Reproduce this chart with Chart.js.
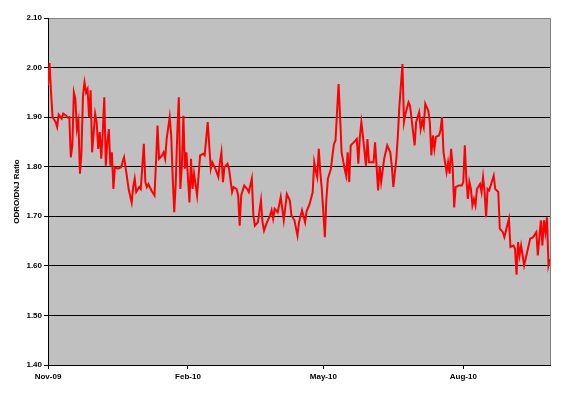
<!DOCTYPE html>
<html>
<head>
<meta charset="utf-8">
<script src="https://cdn.jsdelivr.net/npm/chart.js@4.4.0/dist/chart.umd.min.js"></script>
<style>
  body { margin: 0; background: #fff; }
  #ratioChart { display: block; }
</style>
</head>
<body>
<canvas id="ratioChart" width="577" height="394"></canvas>
<script>
// days counted from 1 Nov 2009
const days = [
  0, 1, 2, 3, 5, 6, 7, 9, 10, 12, 13, 14, 15, 16, 17, 18, 19, 20, 21, 22,
  23, 24, 25, 26, 27, 28, 29, 31, 32, 33, 34, 35, 36, 37, 38, 39, 40, 41, 42, 43,
  44, 46, 48, 50, 51, 53, 55, 56, 57, 58, 60, 61, 63, 64, 65, 66, 68, 70, 71, 72,
  73, 75, 76, 77, 78, 80, 81, 82, 83, 84, 85, 86, 87, 88, 89, 90, 91, 93, 94, 95,
  96, 98, 99, 100, 102, 103, 105, 107, 108, 110, 112, 113, 114, 115, 116, 118, 119, 121, 122, 124,
  125, 126, 127, 129, 131, 132, 134, 135, 136, 138, 140, 141, 142, 144, 146, 147, 148, 149, 151, 153,
  155, 157, 159, 160, 162, 164, 165, 167, 169, 170, 172, 174, 175, 176, 177, 178, 179, 180, 181, 182,
  183, 184, 186, 187, 188, 189, 191, 192, 193, 195, 196, 197, 198, 199, 201, 203, 204, 205, 206, 207,
  209, 210, 211, 214, 215, 217, 218, 219, 221, 223, 225, 226, 227, 229, 230, 231, 233, 234, 235, 237,
  238, 240, 241, 242, 244, 245, 246, 247, 248, 250, 251, 252, 253, 254, 255, 257, 258, 259, 260, 262,
  263, 264, 265, 266, 267, 268, 270, 272, 273, 274, 275, 276, 277, 278, 279, 280, 281, 282, 284, 285,
  286, 287, 288, 289, 290, 293, 294, 296, 297, 299, 300, 303, 304, 306, 307, 308, 309, 310, 311, 313,
  315, 317, 319, 321, 322, 324, 325, 326, 327, 328, 329, 330
];

const ratio = [
  1.964, 2.009, 1.950, 1.900, 1.890, 1.880, 1.905, 1.897, 1.907, 1.903, 1.899, 1.900, 1.819, 1.843, 1.950, 1.937, 1.876, 1.893, 1.786, 1.829,
  1.944, 1.970, 1.950, 1.957, 1.900, 1.954, 1.829, 1.907, 1.890, 1.836, 1.870, 1.816, 1.870, 1.940, 1.802, 1.849, 1.876, 1.802, 1.829, 1.755,
  1.799, 1.796, 1.799, 1.819, 1.799, 1.755, 1.728, 1.759, 1.776, 1.749, 1.759, 1.755, 1.846, 1.769, 1.759, 1.765, 1.752, 1.742, 1.809, 1.883,
  1.816, 1.823, 1.829, 1.816, 1.856, 1.900, 1.863, 1.776, 1.708, 1.769, 1.870, 1.940, 1.755, 1.802, 1.903, 1.796, 1.829, 1.728, 1.816, 1.755,
  1.786, 1.742, 1.782, 1.823, 1.826, 1.823, 1.890, 1.796, 1.809, 1.796, 1.779, 1.809, 1.829, 1.769, 1.799, 1.806, 1.796, 1.749, 1.759, 1.755,
  1.742, 1.681, 1.742, 1.762, 1.755, 1.749, 1.776, 1.702, 1.681, 1.688, 1.732, 1.688, 1.671, 1.688, 1.702, 1.712, 1.695, 1.715, 1.708, 1.739,
  1.692, 1.745, 1.732, 1.702, 1.692, 1.661, 1.688, 1.712, 1.688, 1.710, 1.725, 1.749, 1.809, 1.792, 1.779, 1.836, 1.789, 1.755, 1.708, 1.658,
  1.735, 1.776, 1.796, 1.823, 1.846, 1.853, 1.967, 1.903, 1.829, 1.796, 1.782, 1.829, 1.769, 1.843, 1.849, 1.856, 1.806, 1.860, 1.890, 1.863,
  1.802, 1.856, 1.809, 1.809, 1.849, 1.752, 1.802, 1.769, 1.816, 1.843, 1.829, 1.802, 1.759, 1.816, 1.863, 1.923, 2.007, 1.890, 1.907, 1.930,
  1.923, 1.870, 1.843, 1.890, 1.910, 1.876, 1.893, 1.880, 1.927, 1.913, 1.890, 1.823, 1.863, 1.836, 1.860, 1.863, 1.873, 1.900, 1.829, 1.789,
  1.809, 1.786, 1.836, 1.802, 1.718, 1.759, 1.762, 1.762, 1.769, 1.843, 1.776, 1.735, 1.769, 1.755, 1.722, 1.735, 1.722, 1.755, 1.765, 1.749,
  1.779, 1.749, 1.698, 1.755, 1.752, 1.782, 1.755, 1.749, 1.675, 1.668, 1.658, 1.695, 1.638, 1.641, 1.634, 1.582, 1.648, 1.621, 1.641, 1.601,
  1.628, 1.655, 1.658, 1.668, 1.621, 1.692, 1.641, 1.692, 1.668, 1.698, 1.601, 1.614
];

// x axis tick labels and the day they sit on
const tickDays = [0, 92, 181, 273];
const tickLabels = ['Nov-09', 'Feb-10', 'May-10', 'Aug-10'];

const plotArea = {
  id: 'plotArea',
  beforeDraw(chart) {
    const { ctx, chartArea: a } = chart;
    ctx.save();
    ctx.fillStyle = '#C0C0C0';
    ctx.fillRect(a.left, a.top, a.right - a.left, a.bottom - a.top);
    ctx.strokeStyle = '#808080';
    ctx.lineWidth = 1;
    ctx.beginPath();
    ctx.moveTo(a.left, a.top + 0.5);
    ctx.lineTo(a.right + 0.5, a.top + 0.5);
    ctx.lineTo(a.right + 0.5, a.bottom);
    ctx.stroke();
    ctx.restore();
  }
};

const tickFont = { family: 'Arial, "Liberation Sans", sans-serif', size: 8, weight: 'bold' };

new Chart(document.getElementById('ratioChart'), {
  type: 'line',
  data: {
    datasets: [{
      data: days.map((d, i) => ({ x: d, y: ratio[i] })),
      borderColor: '#FF0000',
      borderWidth: 2,
      pointRadius: 0,
      tension: 0,
      fill: false
    }]
  },
  options: {
    responsive: false,
    animation: false,
    layout: { padding: { left: 0, top: 18, right: 27, bottom: 0 } },
    plugins: {
      legend: { display: false },
      tooltip: { enabled: false }
    },
    scales: {
      x: {
        type: 'linear',
        min: 0,
        max: 330,
        afterBuildTicks: (scale) => { scale.ticks = tickDays.map(v => ({ value: v })); },
        afterFit: (scale) => { scale.height = 29; },
        ticks: {
          autoSkip: false,
          maxRotation: 0,
          padding: 3,
          color: '#000',
          font: tickFont,
          callback: (value) => tickLabels[tickDays.indexOf(value)]
        },
        grid: { drawOnChartArea: false, drawTicks: true, tickLength: 4, tickColor: '#000' },
        border: { color: '#000', width: 1 }
      },
      y: {
        min: 1.4,
        max: 2.1,
        afterFit: (scale) => { scale.width = 48; },
        ticks: {
          stepSize: 0.1,
          padding: 2,
          color: '#000',
          font: tickFont,
          callback: (value) => value.toFixed(2)
        },
        grid: {
          color: (ctx) => Math.abs(ctx.tick.value - 2.1) < 1e-6 ? '#808080' : '#000',
          tickColor: '#000',
          tickLength: 4,
          lineWidth: 1
        },
        border: { color: '#000', width: 1 },
        title: {
          display: true,
          text: 'ODRO/DNJ Ratio',
          color: '#000',
          font: { family: 'Arial, "Liberation Sans", sans-serif', size: 8, weight: 'bold' },
          padding: { top: 12, bottom: 0 }
        }
      }
    }
  },
  plugins: [plotArea]
});
</script>
</body>
</html>
